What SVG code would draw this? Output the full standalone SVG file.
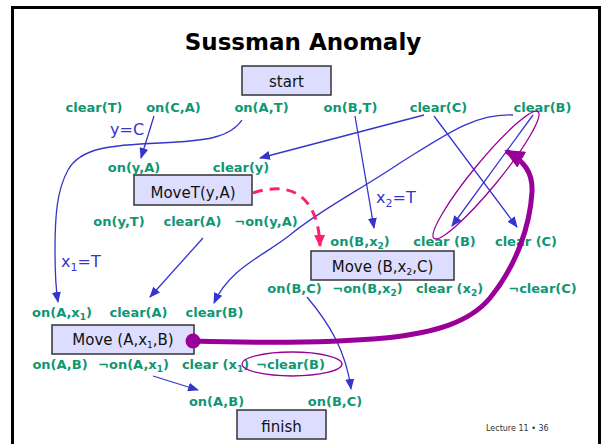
<svg xmlns="http://www.w3.org/2000/svg" width="602" height="444" viewBox="0 0 602 444">
<style>
.g{font-family:"DejaVu Sans",Verdana,sans-serif;font-weight:bold;font-size:13px;fill:#0F9673;text-anchor:middle}
.b{font-family:"DejaVu Sans",Verdana,sans-serif;font-size:16px;fill:#3535CC}
.bx{fill:#DDDDFF;stroke:#333;stroke-width:1.5}
.bt{font-family:"DejaVu Sans",Verdana,sans-serif;font-size:15px;fill:#111;text-anchor:middle}
.ln{fill:none;stroke:#3535CC;stroke-width:1.3;marker-end:url(#ab)}
.s{font-size:9px}
</style>
<defs>
<marker id="ab" markerUnits="userSpaceOnUse" markerWidth="11" markerHeight="9" refX="10" refY="4.5" orient="auto"><path d="M0,0 L11,4.5 L0,9 z" fill="#3535CC"/></marker>
<marker id="ap" markerUnits="userSpaceOnUse" markerWidth="12" markerHeight="11" refX="11" refY="5.5" orient="auto"><path d="M0,0 L12,5.5 L0,11 z" fill="#FF1F6F"/></marker>
<marker id="am" markerUnits="userSpaceOnUse" markerWidth="20" markerHeight="18" refX="18" refY="9" orient="auto"><path d="M0,0 L20,9 L0,18 z" fill="#990099"/></marker>
</defs>
<rect x="0" y="0" width="602" height="444" fill="#fff"/>
<rect x="12.5" y="7.5" width="587" height="450" fill="#fff" stroke="#000" stroke-width="3"/>
<text x="303" y="50" font-family="'DejaVu Sans',Verdana,sans-serif" font-weight="bold" font-size="23" text-anchor="middle" fill="#000">Sussman Anomaly</text>

<g id="start"><rect class="bx" x="242" y="66" width="89" height="29"/><text class="bt" x="286.5" y="87">start</text></g>
<g id="moveT"><rect class="bx" x="134" y="175" width="118" height="30"/><text class="bt" x="193" y="198">MoveT(y,A)</text></g>
<g id="moveB"><rect class="bx" x="311" y="251" width="143" height="29"/><text class="bt" x="382.5" y="272">Move (B,x<tspan class="s" dy="3">2</tspan><tspan dy="-3">,C)</tspan></text></g>
<g id="moveA"><rect class="bx" x="52" y="325" width="142" height="29"/><text class="bt" x="123" y="345">Move (A,x<tspan class="s" dy="3">1</tspan><tspan dy="-3">,B)</tspan></text></g>
<g id="finish"><rect class="bx" x="237" y="410" width="89" height="29"/><text class="bt" x="281.5" y="432">finish</text></g>

<g id="labels">
<text class="g" x="94" y="112">clear(T)</text>
<text class="g" x="173.5" y="112">on(C,A)</text>
<text class="g" x="261.5" y="112">on(A,T)</text>
<text class="g" x="350.5" y="112">on(B,T)</text>
<text class="g" x="438.5" y="112">clear(C)</text>
<text class="g" x="542.5" y="112">clear(B)</text>
<text class="g" x="134" y="172">on(y,A)</text>
<text class="g" x="241" y="172">clear(y)</text>
<text class="g" x="119" y="226">on(y,T)</text>
<text class="g" x="192.5" y="226">clear(A)</text>
<text class="g" x="266" y="226">¬on(y,A)</text>
<text class="g" x="360" y="246">on(B,x<tspan class="s" dy="3">2</tspan><tspan dy="-3">)</tspan></text>
<text class="g" x="444.5" y="246">clear (B)</text>
<text class="g" x="526" y="246">clear (C)</text>
<text class="g" x="294.5" y="293">on(B,C)</text>
<text class="g" x="367.5" y="293">¬on(B,x<tspan class="s" dy="3">2</tspan><tspan dy="-3">)</tspan></text>
<text class="g" x="449.5" y="293">clear (x<tspan class="s" dy="3">2</tspan><tspan dy="-3">)</tspan></text>
<text class="g" x="542.5" y="293">¬clear(C)</text>
<text class="g" x="62" y="317">on(A,x<tspan class="s" dy="3">1</tspan><tspan dy="-3">)</tspan></text>
<text class="g" x="138.5" y="317">clear(A)</text>
<text class="g" x="214.5" y="317">clear(B)</text>
<text class="g" x="60" y="369">on(A,B)</text>
<text class="g" x="133.5" y="369">¬on(A,x<tspan class="s" dy="3">1</tspan><tspan dy="-3">)</tspan></text>
<text class="g" x="215.5" y="369">clear (x<tspan class="s" dy="3">1</tspan><tspan dy="-3">)</tspan></text>
<text class="g" x="290.5" y="369">¬clear(B)</text>
<text class="g" x="216.5" y="406">on(A,B)</text>
<text class="g" x="335" y="406">on(B,C)</text>
<text class="b" x="110" y="135">y=C</text>
<text class="b" x="61" y="267">x<tspan font-size="11" dy="4">1</tspan><tspan dy="-4">=T</tspan></text>
<text class="b" x="376" y="203">x<tspan font-size="11" dy="4">2</tspan><tspan dy="-4">=T</tspan></text>
<text x="486" y="431" font-family="'DejaVu Sans',Verdana,sans-serif" font-size="8" fill="#333">Lecture 11 • 36</text>
</g>

<g id="connectors">
<path class="ln" d="M154,116 L141,158"/>
<path class="ln" d="M242,120 C230,138 205,141 160,143 C110,145 80,148 68,170 C57,190 55,215 55,250 C55,275 56,290 58,302"/>
<path class="ln" d="M424,115 L260,158"/>
<path class="ln" d="M203,238 L150,297"/>
<path class="ln" d="M513,115 C475,113 445,135 400,163 C360,190 320,210 290,235 C262,257 230,268 214,303"/>
<path class="ln" d="M355,116 L374,228"/>
<path class="ln" d="M434,116 L517,227"/>
<path class="ln" d="M533,115 L452,226"/>
<path class="ln" d="M307,297 C328,322 346,350 351,389"/>
<path class="ln" d="M153,376 L198,390"/>
<path d="M253,193 C285,182 318,190 320,246" fill="none" stroke="#FF1F6F" stroke-width="3" stroke-dasharray="10,7" marker-end="url(#ap)"/>
<ellipse cx="486" cy="175" rx="82" ry="13" transform="rotate(-50.6 486 175)" fill="none" stroke="#990099" stroke-width="1.3"/>
<ellipse cx="292" cy="364" rx="50" ry="12" fill="none" stroke="#990099" stroke-width="1.3"/>
<path d="M193,341 C260,343 330,343 385,338 C435,333 470,322 490,298 C517,265 530,225 532,192 C533,172 524,161 506,151" fill="none" stroke="#990099" stroke-width="5" marker-end="url(#am)"/>
<circle cx="193" cy="341" r="7.5" fill="#990099"/>
</g>
</svg>
